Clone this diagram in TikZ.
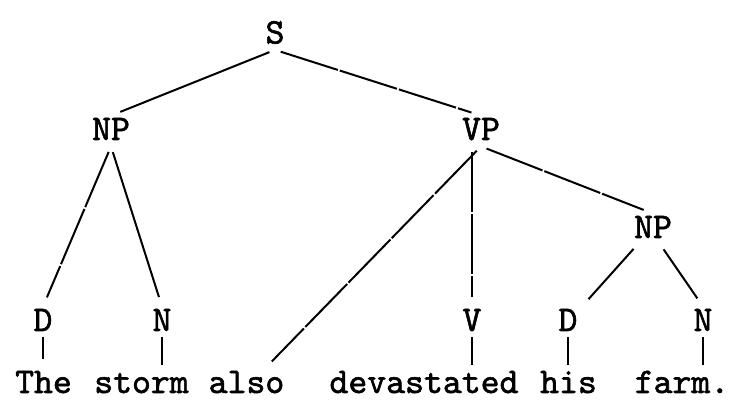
\documentclass[tikz,border=0pt]{standalone}
\usepackage{fontspec}
\newfontfamily\typer[FakeBold=1.6]{lmmono10-regular.otf}
\begin{document}
\begin{tikzpicture}[x=0.5pt,y=-0.5pt,
  cat/.style={anchor=base,inner sep=2pt,text height=10pt,text depth=1pt,
    font=\fontsize{18}{20}\typer\bfseries},
  word/.style={cat},
  branch/.style={line width=1pt,shorten <=3pt,shorten >=5pt},
  link/.style={line width=1pt,shorten >=2pt},
  broken/.style={dash pattern=on 30pt off 1pt}]
\def\ya{43.5}
\def\yb{140}
\def\yc{238}
\def\yd{331}
\def\ye{393}
\useasboundingbox (0,0) rectangle (734,405);
% categories
\node[cat] (s)   at (275,\ya) {S};
\node[cat] (np1) at (111,\yb) {NP};
\node[cat] (vp)  at (481,\yb) {VP};
\node[cat] (np2) at (653,\yc) {NP};
\node[cat] (d1)  at (43,\yd)  {D};
\node[cat] (n1)  at (162,\yd) {N};
\node[cat] (v)   at (472,\yd) {V};
\node[cat] (d2)  at (568,\yd) {D};
\node[cat] (n2)  at (703,\yd) {N};
% words
\node[word] (w1) at (43.5,\ye)  {The};
\node[word] (w2) at (141.5,\ye) {storm};
\node[word] (w3) at (246.5,\ye) {also};
\node[word] (w4) at (424,\ye)   {devastated};
\node[word] (w5) at (568.5,\ye) {his};
\node[word] (w6) at (682,\ye)   {farm.};
% branches
\draw[branch] (s.south) -- (np1.north);
\draw[branch,broken] (s.south) -- (vp.north);
\draw[branch,broken] (np1.south) -- (d1.north);
\draw[branch] (np1.south) -- (n1.north);
\draw[branch,broken] (vp.south) -- (w3.40);
\draw[branch,broken] (v.north |- vp.south) -- (v.north);
\draw[branch,broken] (vp.south) -- (np2.north);
\draw[branch] (np2.225) -- (d2.north east);
\draw[branch] (np2.295) -- (n2.north);
\draw[link,broken,shorten >=5pt] (d1.south) -- (d1.south |- w1.north);
\foreach \c/\w in {n1/w2,v/w4,d2/w5,n2/w6}
  \draw[link] (\c.south) -- (\c.south |- \w.north);
\end{tikzpicture}
\end{document}
